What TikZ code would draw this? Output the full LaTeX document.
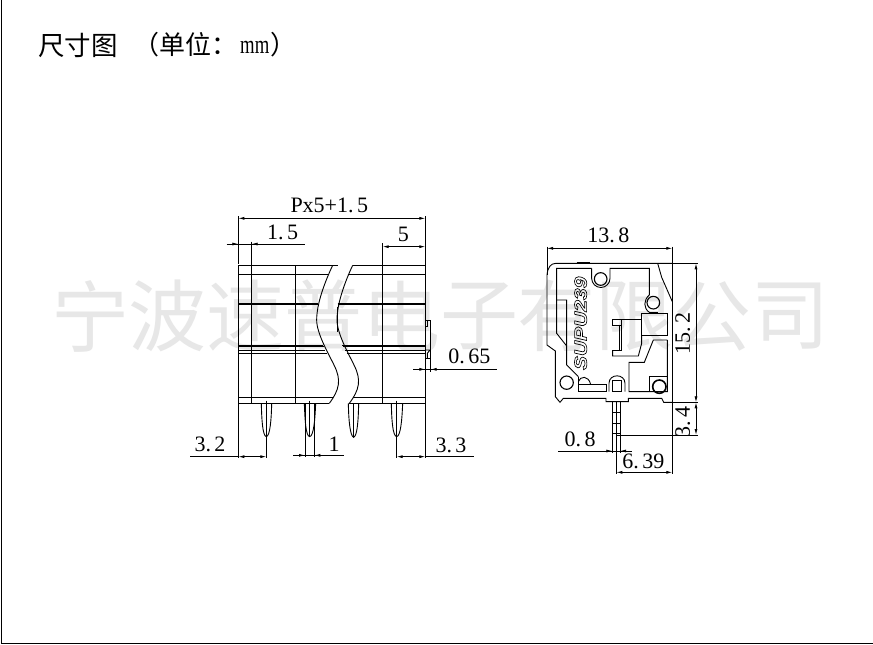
\documentclass[tikz,border=0pt]{standalone}
\usepackage{fontspec}
\usetikzlibrary{arrows.meta}
\setmainfont{Liberation Serif}
\newfontfamily\cjk{Noto Sans CJK SC}
\newfontfamily\supu{Liberation Sans}
\definecolor{wm}{HTML}{E7E7E7}
\tikzset{
  ln/.style={line width=0.9pt,black},
  thk/.style={line width=2pt,black},
  dimln/.style={line width=0.8pt,black},
  tip/.style={-{Latex[length=6pt,width=3pt]}},
  tips/.style={{Latex[length=6pt,width=3pt]}-{Latex[length=6pt,width=3pt]}},
  lab/.style={font=\fontsize{22}{22}\selectfont,inner sep=0pt,black},
  wmk/.style={font=\cjk\fontsize{78}{78}\selectfont,inner sep=0pt,text=wm}
}
\newcommand{\dt}{.\kern3.5pt}
\begin{document}
\begin{tikzpicture}[x=1pt,y=-1pt]
\useasboundingbox (0,0) rectangle (873,645);
\fill[white] (0,0) rectangle (873,645);
% watermark
\foreach \c [count=\i from 0] in {宁,波,速,普,电,子,有,限,公,司}{
  \node[wmk] (w\i) at (90+\i*77.8,316) {\c};
}
% frame
\draw[line width=1pt] (1,0) -- (1,643.5) -- (873,643.5);
% title
\node[anchor=west,inner sep=0pt,font=\cjk\fontsize{26.5}{26.5}\selectfont] (title) at (38,45) {尺寸图};
\node[anchor=west,inner sep=0pt,font=\cjk\fontsize{26}{26}\selectfont] (unit) at (133,45) {（单位：};
\node[anchor=west,inner sep=0pt,font=\fontsize{26}{26}\selectfont] (mm) at (240,47) {\scalebox{0.72}[1]{mm}};
\node[anchor=west,inner sep=0pt,font=\cjk\fontsize{26}{26}\selectfont] (close) at (270,45) {）};

% LEFT VIEW
\begin{scope}[shift={(180,190)},x=0.33333pt,y=-0.33333pt]
  % horizontals, left part
  \draw[ln] (175,226) -- (475,226);
  \draw[ln] (175,252) -- (444,252);
  \draw[thk] (175,343) -- (415,343);
  \foreach \yy/\xl in {465/428,470/431,480/436,490/441}{\draw[ln] (175,\yy) -- (\xl,\yy);}
  \draw[ln] (175,622) -- (460,622);
  \draw[ln] (175,640) -- (448,640);
  % horizontals, right part
  \draw[ln] (518,226) -- (736,226);
  \draw[ln] (503,252) -- (736,252);
  \draw[thk] (473,343) -- (736,343);
  \foreach \yy/\xr in {465/487,470/490,480/495,490/500}{\draw[ln] (\xr,\yy) -- (736,\yy);}
  \draw[ln] (518,622) -- (736,622);
  \draw[ln] (508,640) -- (736,640);
  % verticals
  \draw[ln] (175,78) -- (175,222);
  \draw[ln] (175,226) -- (175,805);
  \draw[ln] (736,78) -- (736,805);
  \draw[ln] (215,155) -- (215,640);
  \draw[ln] (346,226) -- (346,640);
  \draw[ln] (608,160) -- (608,640);
  % break curves
  \draw[ln] (458,226) .. controls (435,275) and (410,340) .. (410,390)
     .. controls (410,430) and (445,490) .. (462,525)
     .. controls (485,570) and (478,600) .. (448,640);
  \draw[ln] (518,226) .. controls (495,275) and (471,340) .. (471,390)
     .. controls (471,430) and (505,490) .. (522,525)
     .. controls (545,570) and (538,600) .. (508,640);
  \draw[ln,line width=1.4pt] (472,350) -- (472,425);
  % side tab
  \draw[ln] (736,390) -- (752,390) -- (752,505) -- (736,505);
  \draw[ln] (742,390) -- (742,408) -- (736,408);
  \draw[ln] (736,480) -- (750,480) -- (742,490) -- (742,505);
  % pins
  \draw[ln] (244,640) .. controls (245,690) and (248,738) .. (259,740) .. controls (270,738) and (274,690) .. (275,640);
  \draw[ln] (259,632) -- (259,805);
  \draw[ln] (373,640) .. controls (375,690) and (377,738) .. (389,740) .. controls (401,738) and (405,690) .. (407,640);
  \draw[ln] (389,632) -- (389,740);
  \draw[ln] (375,640) -- (375,802);
  \draw[ln] (403,640) -- (403,802);
  \draw[ln] (505,640) .. controls (506,690) and (510,738) .. (521,742) .. controls (532,738) and (535,690) .. (536,640);
  \draw[ln] (521,640) -- (521,742);
  \draw[ln] (634,640) .. controls (635,690) and (638,738) .. (650,740) .. controls (662,738) and (666,690) .. (668,640);
  \draw[ln] (650,632) -- (650,805);
  % dimensions
  \draw[dimln,tips] (175,85) -- (736,85);
  \draw[dimln] (140,162) -- (375,162);
  \draw[dimln,tip] (150,162) -- (175,162);
  \draw[dimln,tip] (240,162) -- (215,162);
  \draw[dimln,tips] (608,170) -- (736,170);
  \draw[dimln] (700,538) -- (950,538);
  \draw[dimln,tip] (711,538) -- (736,538);
  \draw[dimln,tip] (777,538) -- (752,538);
  \draw[ln] (752,505) -- (752,545);
  \draw[dimln] (30,800) -- (175,800);
  \draw[dimln,tips] (175,800) -- (259,800);
  \draw[dimln] (340,796) -- (492,796);
  \draw[dimln,tip] (350,796) -- (375,796);
  \draw[dimln,tip] (428,796) -- (403,796);
  \draw[dimln,tips] (650,800) -- (736,800);
  \draw[dimln] (736,800) -- (882,800);
  % labels
  \node[lab] (a1) at (448,47) {Px5+1\dt 5};
  \node[lab] (a2) at (308,127) {1\dt 5};
  \node[lab] (a3) at (670,132) {5};
  \node[lab] (a4) at (868,500) {0\dt 65};
  \node[lab] (a5) at (90,762) {3\dt 2};
  \node[lab] (a6) at (462,762) {1};
  \node[lab] (a7) at (813,765) {3\dt 3};
\end{scope}

% RIGHT VIEW
\begin{scope}[shift={(530,220)},x=0.33333pt,y=-0.33333pt]
  % outline
  \draw[ln] (427,130) -- (78,130) .. controls (62,130) and (53,142) .. (51,165) -- (51,375) -- (76,393) -- (76,530) -- (90,547) -- (100,535)
    -- (228,535) -- (228,545) -- (295,545) -- (295,535) -- (395,535) -- (401,547) -- (427,547);
  \draw[thk] (140,128) -- (180,128);
  \draw[ln] (51,80) -- (51,165);
  \draw[ln] (427,80) -- (427,762);
  % chamfer at the top right
  \draw[ln] (383,130) -- (395,172) -- (427,245);
  % inner upper left
  \draw[ln] (185,145) -- (80,145) -- (80,340) -- (110,378);
  \draw[ln] (80,240) -- (110,240) -- (110,435) -- (145,470);
  \draw[ln] (185,145) -- (185,175) arc[start angle=180,end angle=0,radius=27.5] -- (240,145) -- (358,145) -- (358,225);
  \draw[ln] (358,225) .. controls (340,240) and (340,265) .. (358,277);
  \draw[ln] (358,277) -- (385,277);
  % circles
  \draw[ln,line width=1.1pt] (212,177) circle[radius=19];
  \draw[ln,line width=1.1pt] (370,248) circle[radius=19];
  \draw[ln,line width=1.1pt] (110,488) circle[radius=20];
  \draw[ln,line width=1.6pt] (388,500) circle[radius=20];
  % lower left box and dome
  \draw[ln] (145,470) -- (145,515) -- (228,515) -- (228,493) -- (145,493);
  \draw[ln] (145,485) .. controls (150,468) and (175,465) .. (182,493);
  % centre slot
  \draw[ln] (237,515) -- (237,490) .. controls (237,460) and (285,460) .. (285,490) -- (285,515);
  \draw[ln] (248,515) -- (248,480) -- (275,480) -- (275,515) -- cycle;
  % right features
  \draw[ln] (335,280) rectangle (412,345);
  \draw[ln] (248,297) -- (335,297);
  \draw[ln] (248,297) -- (248,315) -- (275,315) -- (275,297);
  \draw[ln] (268,315) -- (268,390);
  \draw[ln] (275,315) -- (275,390);
  \draw[ln] (248,390) -- (275,390);
  \draw[ln] (335,345) -- (335,370) -- (325,408) -- (248,408) -- (248,390);
  \draw[ln] (412,360) -- (370,360) -- (343,427) -- (297,427) -- (297,515) -- (412,515) -- (412,360);
  \draw[ln] (412,468) -- (358,468) -- (358,515);
  % pin
  \draw[ln] (247,545) -- (247,700);
  \draw[ln] (270,545) -- (270,700);
  \draw[ln] (259,545) -- (259,762);
  \foreach \yy in {577,610,640}{\draw[ln,line width=1.2pt] (247,\yy) -- (270,\yy);}
  % dimensions
  \draw[dimln,tips] (51,85) -- (427,85);
  \draw[dimln] (427,130) -- (505,130);
  \draw[dimln] (427,547) -- (505,547);
  \draw[dimln] (259,645) -- (505,645);
  \draw[dimln,tips] (498,130) -- (498,547);
  \draw[dimln,tips] (498,547) -- (498,645);
  \draw[dimln] (85,693) -- (305,693);
  \draw[dimln,tip] (222,693) -- (247,693);
  \draw[dimln,tip] (295,693) -- (270,693);
  \draw[dimln,tips] (259,757) -- (427,757);
  % labels
  \node[lab] (b1) at (235,47) {13\dt 8};
  \node[lab,rotate=90] (b2) at (458,340) {15\dt 2};
  \node[lab,rotate=90] (b3) at (458,605) {3\dt 4};
  \node[lab] (b4) at (150,657) {0\dt 8};
  \node[lab] (b5) at (340,725) {6\dt 39};
  \node[rotate=90,inner sep=0pt,font=\supu\itshape\bfseries\fontsize{17.5}{17.5}\selectfont] (brand) at (152,310)
    {\scalebox{1.2}[1]{\special{pdf:code q 1 Tr 0.6 w}SUPU239\special{pdf:code Q}}};
\end{scope}
\end{tikzpicture}
\end{document}
